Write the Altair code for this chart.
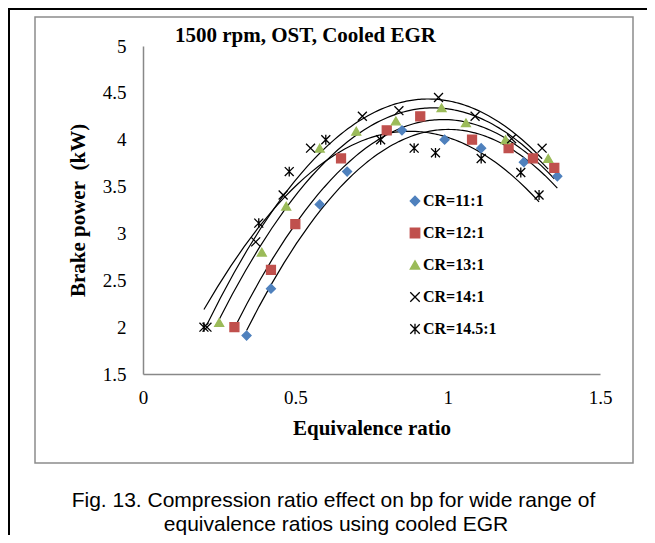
import altair as alt
import pandas as pd

# ---- data ----
series_names = ["CR=11:1", "CR=12:1", "CR=13:1", "CR=14:1", "CR=14.5:1"]

phi_11 = [0.34, 0.42, 0.58, 0.67, 0.85, 0.99, 1.11, 1.25, 1.36]
bp_11 = [1.91, 2.41, 3.31, 3.66, 4.10, 4.00, 3.91, 3.76, 3.61]

phi_12 = [0.30, 0.42, 0.50, 0.65, 0.80, 0.91, 1.08, 1.20, 1.28, 1.35]
bp_12 = [2.00, 2.61, 3.10, 3.80, 4.10, 4.25, 4.00, 3.91, 3.80, 3.70]

phi_13 = [0.25, 0.39, 0.47, 0.58, 0.70, 0.83, 0.98, 1.06, 1.19, 1.33]
bp_13 = [2.05, 2.80, 3.29, 3.91, 4.09, 4.20, 4.34, 4.18, 4.00, 3.80]

phi_14 = [0.21, 0.37, 0.46, 0.55, 0.72, 0.84, 0.97, 1.09, 1.21, 1.31]
bp_14 = [2.00, 2.91, 3.41, 3.91, 4.25, 4.31, 4.45, 4.25, 4.01, 3.91]

phi_145 = [0.20, 0.38, 0.48, 0.60, 0.78, 0.89, 0.96, 1.11, 1.24, 1.30]
bp_145 = [2.00, 3.11, 3.66, 4.00, 4.00, 3.91, 3.86, 3.80, 3.65, 3.41]

colors = ["#4F81BD", "#C0504D", "#9BBB59", "#000000", "#000000"]
shapes = ["diamond", "square", "triangle-up",
          "M-1,-1L1,1M-1,1L1,-1",
          "M-1,-1L1,1M-1,1L1,-1M0,-1.1L0,1.1"]

x_ticks = [0, 0.5, 1, 1.5]
y_ticks = [1.5, 2, 2.5, 3, 3.5, 4, 4.5, 5]

title_text = "1500 rpm, OST, Cooled EGR"
caption_1 = "Fig. 13. Compression ratio effect on bp for wide range of"
caption_2 = "equivalence ratios using cooled EGR"

rows = []
for name, xs, ys in zip(series_names,
                        [phi_11, phi_12, phi_13, phi_14, phi_145],
                        [bp_11, bp_12, bp_13, bp_14, bp_145]):
    for a, b in zip(xs, ys):
        rows.append({"phi": a, "bp": b, "series": name})
df = pd.DataFrame(rows)

one = pd.DataFrame({"k": [0]})

serif = "Liberation Serif"
sans = "Liberation Sans"

xenc = alt.X("phi:Q", scale=alt.Scale(domain=[0, 1.5], nice=False),
             axis=alt.Axis(values=x_ticks, format=".1~f", title="Equivalence ratio",
                           titleFont=serif, titleFontSize=21, titleFontWeight="bold",
                           titleColor="black", titlePadding=10,
                           labelFont=serif, labelFontSize=19, labelColor="black",
                           labelPadding=14, labelFlush=False, ticks=False, grid=False,
                           domainColor="#888888", domainWidth=1.5))
yenc = alt.Y("bp:Q", scale=alt.Scale(domain=[1.5, 5], nice=False, zero=False),
             axis=alt.Axis(values=y_ticks, format=".1~f", title="Brake power\u00a0 (kW)",
                           titleFont=serif, titleFontSize=21, titleFontWeight="bold",
                           titleColor="black", titlePadding=14,
                           labelFont=serif, labelFontSize=19, labelColor="black",
                           labelPadding=17, labelFlush=False, ticks=False, grid=False,
                           domainColor="#888888", domainWidth=1.5))

sdom = alt.Scale(domain=series_names, range=colors)

outer = alt.Chart(one).mark_rect(fill=None, stroke="black", strokeWidth=2).encode(
    x=alt.value(-134), x2=alt.value(700), y=alt.value(-37), y2=alt.value(700))
inner = alt.Chart(one).mark_rect(fill=None, stroke="#8c8c8c", strokeWidth=1.5).encode(
    x=alt.value(-108), x2=alt.value(490), y=alt.value(-29), y2=alt.value(417))

lines = alt.Chart(df).transform_regression(
    "phi", "bp", method="poly", order=2, groupby=["series"]
).mark_line(color="black", strokeWidth=1.2).encode(
    x=xenc, y=yenc, detail="series:N")

points = alt.Chart(df).mark_point(filled=True, strokeWidth=1.3, size=80, opacity=1).encode(
    x=xenc, y=yenc,
    fill=alt.Fill("series:N", scale=sdom, title=None),
    stroke=alt.Stroke("series:N", scale=sdom, title=None),
    shape=alt.Shape("series:N", scale=alt.Scale(domain=series_names, range=shapes), title=None),
)

title = alt.Chart(one).mark_text(font=serif, fontSize=21, fontWeight="bold",
                                 align="left", baseline="alphabetic", color="black").encode(
    x=alt.value(32), y=alt.value(-4), text=alt.value(title_text))

cap1 = alt.Chart(one).mark_text(font=sans, fontSize=21, align="center",
                                baseline="alphabetic", color="black").encode(
    x=alt.value(190.5), y=alt.value(460.5), text=alt.value(caption_1))
cap2 = alt.Chart(one).mark_text(font=sans, fontSize=21, align="center",
                                baseline="alphabetic", color="black").encode(
    x=alt.value(193), y=alt.value(485), text=alt.value(caption_2))

chart = alt.layer(outer, inner, lines, points, title, cap1, cap2).properties(
    width=457, height=328,
    autosize=alt.AutoSizeParams(type="none"),
    padding={"left": 135, "top": 38, "right": 47, "bottom": 161},
).configure_view(stroke=None).configure_legend(
    orient="none", legendX=264, legendY=147, padding=0,
    labelFont=serif, labelFontSize=16, labelFontWeight="bold", labelColor="black",
    symbolSize=90, symbolStrokeWidth=1.3, rowPadding=16, labelOffset=0,
)

chart.save("out.html", embed_options={"renderer": "svg", "actions": False})
